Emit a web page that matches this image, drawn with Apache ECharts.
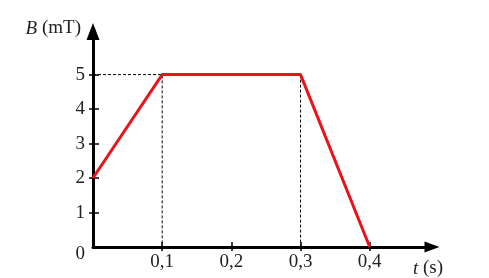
<!DOCTYPE html>
<html><head><meta charset="utf-8">
<script src="https://cdn.jsdelivr.net/npm/echarts@6/dist/echarts.min.js"></script>
<style>html,body{margin:0;padding:0;background:#fff}#c{width:489px;height:278px}</style>
</head><body><div id="c"></div>
<script>
const tValues = [0, 0.1, 0.3, 0.4];
const bValues = [2, 5, 5, 0];
const xTicks = [0.1, 0.2, 0.3, 0.4];
const yTicks = [0, 1, 2, 3, 4, 5];
const guideA = [[0, 5], [0.1, 5], [0.1, 0]];
const guideB = [[0.3, 5], [0.3, 0]];

const FONT = '"Liberation Serif", "Times New Roman", serif';
const FS = 19;
const chart = echarts.init(document.getElementById('c'), null, {renderer: 'canvas'});
const fmtX = v => String(v).replace('.', ',');
const xMin = 0, xMax = 0.49, yMin = 0, yMax = 6.25;

chart.setOption({
  animation: false,
  backgroundColor: '#fff',
  grid: {left: 93, right: 57, top: 31.5, bottom: 29, containLabel: false},
  xAxis: [{
    type: 'value', min: xMin, max: xMax, position: 'bottom',
    splitLine: {show: false},
    axisLine: {show: true, lineStyle: {color: '#000', width: 3}, symbol: ['none', 'triangle'], symbolSize: [11, 15]},
    axisTick: {show: true, customValues: xTicks, length: 4, inside: false, lineStyle: {color: '#000', width: 1.5}},
    axisLabel: {show: true, customValues: xTicks, formatter: fmtX, margin: 6, color: '#222', fontFamily: FONT, fontSize: FS},
    name: '{i|t} (s)', nameLocation: 'end', nameGap: -4,
    nameTextStyle: {fontFamily: FONT, fontSize: FS, color: '#222', align: 'center', verticalAlign: 'top', padding: [12, 0, 0, 0],
      rich: {i: {fontStyle: 'italic', fontFamily: FONT, fontSize: FS, color: '#222'}}}
  }, {
    type: 'value', min: xMin, max: xMax, position: 'bottom', offset: 0,
    splitLine: {show: false}, axisLine: {show: false}, axisLabel: {show: false},
    axisTick: {show: true, customValues: xTicks, length: 5, inside: true, lineStyle: {color: '#000', width: 1.5}}
  }],
  yAxis: [{
    type: 'value', min: yMin, max: yMax, position: 'left',
    splitLine: {show: false},
    axisLine: {show: true, lineStyle: {color: '#000', width: 3}, symbol: ['none', 'triangle'], symbolSize: [13, 17]},
    axisTick: {show: true, customValues: yTicks.filter(v => v > 0), length: 4, inside: false, lineStyle: {color: '#000', width: 1.5}},
    axisLabel: {show: true, customValues: yTicks, margin: 8, color: '#222', fontFamily: FONT, fontSize: FS,
      formatter: v => v === 0 ? '{z|0}' : String(v),
      rich: {z: {padding: [14, 0, 0, 0], fontFamily: FONT, fontSize: FS, color: '#222'}}},
    name: '{i|B} (mT)', nameLocation: 'end', nameGap: 3,
    nameTextStyle: {fontFamily: FONT, fontSize: FS, color: '#222', align: 'right', verticalAlign: 'middle', padding: [0, 12, 0, 0],
      rich: {i: {fontStyle: 'italic', fontFamily: FONT, fontSize: FS, color: '#222'}}}
  }, {
    type: 'value', min: yMin, max: yMax, position: 'left', offset: 0,
    splitLine: {show: false}, axisLine: {show: false}, axisLabel: {show: false},
    axisTick: {show: true, customValues: yTicks.filter(v => v > 0), length: 6, inside: true, lineStyle: {color: '#000', width: 1.5}}
  }],
  series: [{
    type: 'line', data: guideA, symbol: 'none', silent: true, z: 1,
    lineStyle: {color: '#000', width: 1, type: [3, 2]}
  }, {
    type: 'line', data: guideB, symbol: 'none', silent: true, z: 1,
    lineStyle: {color: '#000', width: 1, type: [3, 2]}
  }, {
    type: 'line', data: tValues.map((t, i) => [t, bValues[i]]), symbol: 'none', z: 3,
    lineStyle: {color: '#e8141c', width: 3}
  }]
});
</script></body></html>
